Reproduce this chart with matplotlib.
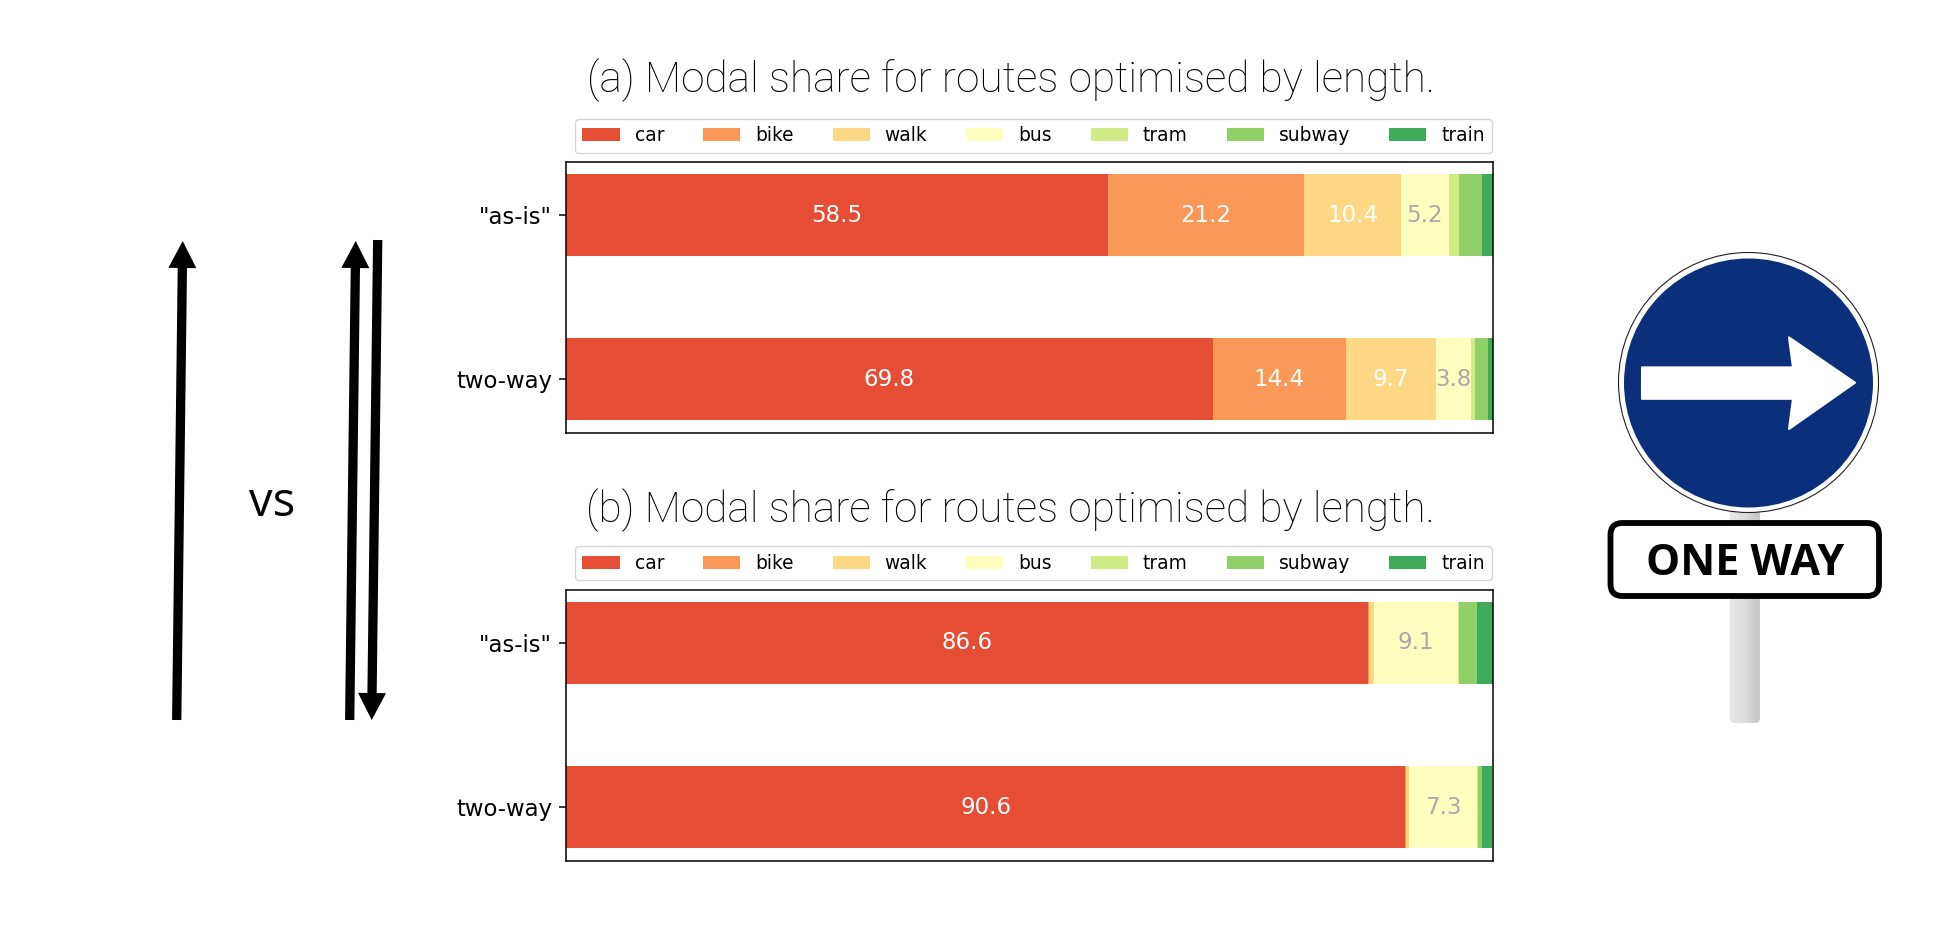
import numpy as np
import matplotlib
matplotlib.use("Agg")
import matplotlib.pyplot as plt
from matplotlib.patches import Circle, FancyBboxPatch, Polygon

W, H = 1955, 935

modes = ["car", "bike", "walk", "bus", "tram", "subway", "train"]
networks = ['"as-is"', "two-way"]
title_a = "(a) Modal share for routes optimised by length."
title_b = "(b) Modal share for routes optimised by length."

# share per network, one list per mode
a_car = [58.5, 69.8]
a_bike = [21.2, 14.4]
a_walk = [10.4, 9.7]
a_bus = [5.2, 3.8]
a_tram = [1.1, 0.4]
a_subway = [2.5, 1.4]
a_train = [1.1, 0.7]

b_car = [86.6, 90.6]
b_bike = [0.1, 0.1]
b_walk = [0.5, 0.3]
b_bus = [9.1, 7.3]
b_tram = [0.1, 0.1]
b_subway = [1.9, 0.5]
b_train = [1.7, 1.1]

colors = plt.get_cmap("RdYlGn")(np.linspace(0.15, 0.85, len(modes)))


def ax_px(fig, left, top, right, bottom):
    return fig.add_axes([left / W, 1 - bottom / H, (right - left) / W, (bottom - top) / H])


def stacked(ax, series):
    data = np.array(series)
    cum = data.cumsum(axis=0)
    for i, name in enumerate(modes):
        rects = ax.barh(networks, data[i], left=cum[i] - data[i], height=0.5,
                        color=colors[i], label=name)
        r, g, b, _ = colors[i]
        txt_color = "white" if r * g * b < 0.5 else "darkgrey"
        labels = [f"{v:.1f}" if v > 3 else "" for v in data[i]]
        ax.bar_label(rects, labels=labels, label_type="center", color=txt_color, fontsize=16.5)
    ax.invert_yaxis()
    ax.set_xlim(0, 100)
    ax.xaxis.set_visible(False)
    ax.tick_params(axis="y", labelsize=16.4, length=5, width=1.1, pad=5)
    for s in ax.spines.values():
        s.set_linewidth(1.1)
    ax.legend(ncols=7, mode="expand", loc="lower left", borderaxespad=0,
              bbox_to_anchor=(0.0097, 1.0344, 0.99, 0.1), fontsize=13.4)


fig = plt.figure(figsize=(W / 100, H / 100), dpi=100)

ax1 = ax_px(fig, 566, 162, 1492.5, 432.7)
stacked(ax1, [a_car, a_bike, a_walk, a_bus, a_tram, a_subway, a_train])
ax2 = ax_px(fig, 566, 589.5, 1492.5, 860.5)
stacked(ax2, [b_car, b_bike, b_walk, b_bus, b_tram, b_subway, b_train])

# everything else is drawn in pixel coordinates on a full figure layer
bg = fig.add_axes([0, 0, 1, 1], zorder=-1)
bg.axis("off")


def arrow(x0, y0, x1, y1, shaft=9.3, head_w=28, head_l=27):
    p0 = np.array([x0, y0], float)
    p1 = np.array([x1, y1], float)
    d = (p1 - p0) / np.hypot(*(p1 - p0))
    n = np.array([-d[1], d[0]])
    base = p1 - d * head_l
    pts = [p0 + n * shaft / 2, base + n * shaft / 2, base + n * head_w / 2, p1,
           base - n * head_w / 2, base - n * shaft / 2, p0 - n * shaft / 2]
    bg.add_patch(Polygon(pts, closed=True, fc="black", ec="none"))


arrow(176.7, 720, 182.7, 241)
arrow(349.7, 720, 355.7, 241)
arrow(377.7, 240, 371.7, 720)

bg.text(272, 503, "vs", ha="center", va="center", fontsize=34, family="Open Sans")

bg.text(1010.5, 92, title_a, ha="center", va="baseline", fontsize=30.5, family="Roboto", fontweight="light")
bg.text(1010.5, 522, title_b, ha="center", va="baseline", fontsize=30.5, family="Roboto", fontweight="light")

# post with a grey gradient
clip = FancyBboxPatch((1730, 505), 30, 218, boxstyle="round,pad=0,rounding_size=5", fc="none", ec="none")
bg.add_patch(clip)
grad = np.array([[0.90, 0.88, 0.86, 0.82, 0.79]])
im = bg.imshow(grad, extent=(1730, 1760, 723, 505), cmap="gray", vmin=0, vmax=1, aspect="auto",
               interpolation="bilinear", zorder=1)
im.set_clip_path(clip)
bg.set_xlim(0, W)
bg.set_ylim(H, 0)

# round sign
bg.add_patch(Circle((1748.5, 382.5), 130, fc="white", ec="#222222", lw=0.8, zorder=2))
bg.add_patch(Circle((1748.5, 383), 124.5, fc="#0b2f7a", ec="none", zorder=3))
bg.add_patch(Polygon([(1642, 367.4), (1793, 367.4), (1789, 337.4), (1855, 382.7),
                      (1789, 429), (1793, 398.8), (1642, 398.8)], closed=True,
                     fc="white", ec="white", lw=1.5, joinstyle="round", zorder=4))

# plate
bg.add_patch(FancyBboxPatch((1610.5, 523), 268.5, 73, boxstyle="round,pad=0,rounding_size=12",
                            fc="white", ec="black", lw=4.2, zorder=5))
bg.text(1745.5, 563.5, "ONE WAY", ha="center", va="center", fontsize=31, family="Open Sans",
        fontweight="bold", zorder=6)

fig.savefig("out.png", dpi=100)
